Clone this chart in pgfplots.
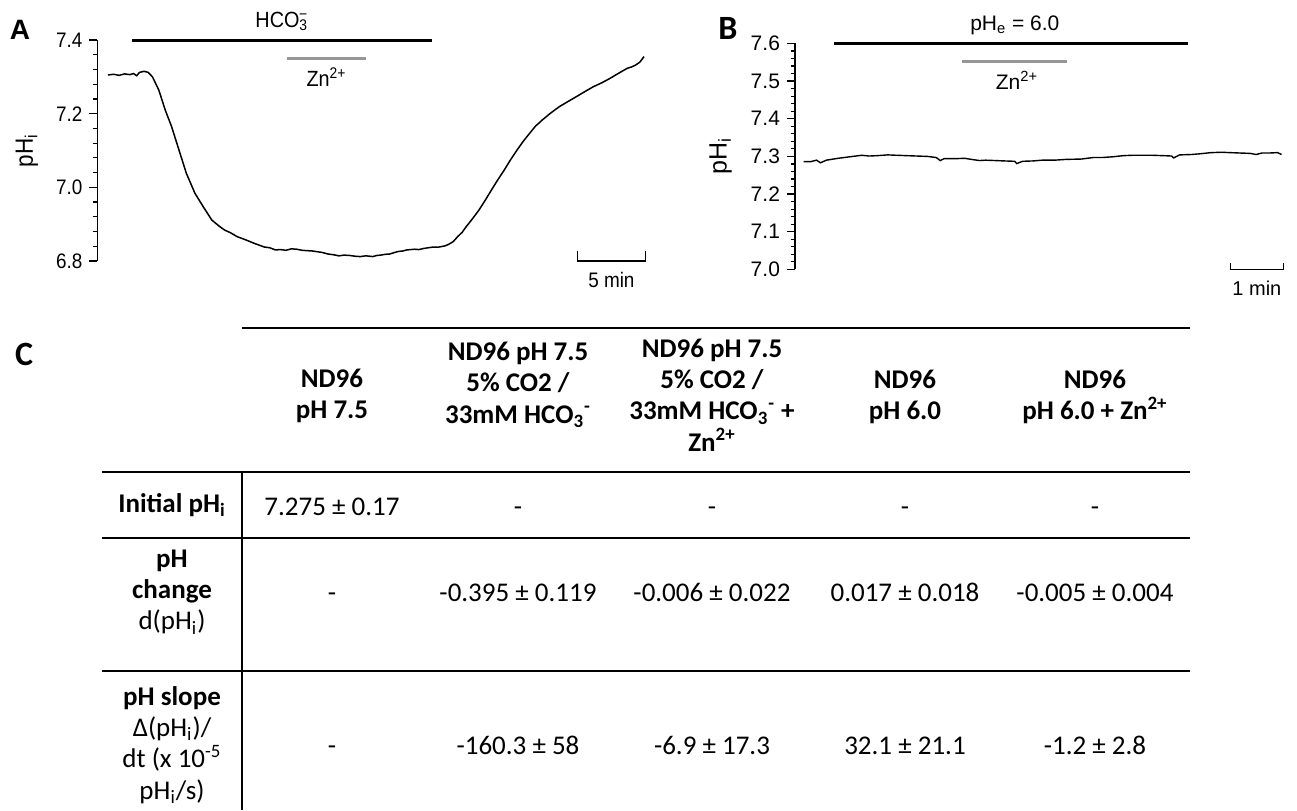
\documentclass[border=0pt]{standalone}
\usepackage{pgfplots}
\pgfplotsset{compat=1.18}
\usepackage{fontspec}
\setmainfont{Carlito}
\newfontfamily\arial{Liberation Sans}
\newfontfamily\arialn[FakeStretch=0.9]{Liberation Sans}
\definecolor{zngray}{RGB}{150,150,150}
\newcommand\tabfont{\fontsize{13.5}{15.7}\selectfont}
\begin{document}
\begin{tikzpicture}
\path[use as bounding box] (0,0) rectangle (648.5pt,405pt);

% ---------------- Panel A ----------------
\begin{axis}[
  at={(48.7pt,274.5pt)}, anchor=south west,
  scale only axis, width=275.3pt, height=110.5pt,
  xmin=0, xmax=40.6, ymin=6.8, ymax=7.4,
  axis y line=left, axis x line=none,
  y axis line style={-, line width=0.6pt},
  ytick={6.8,7.0,7.2,7.4}, minor y tick num=4,
  tick align=outside, major tick length=4pt, minor tick length=2.2pt,
  every tick/.style={line width=0.6pt},
  xtick=\empty,
  yticklabel style={font=\arialn\fontsize{10.5}{11}\selectfont},
  /pgf/number format/assume math mode=true,
  /pgf/number format/.cd, fixed, fixed zerofill, precision=1, /pgfplots/.cd,
  ylabel={pH\textsubscript{i}},
  ylabel style={font=\arialn\fontsize{12.5}{13}\selectfont, at={(axis description cs:-0.128,0.5)}, anchor=center},
  clip=false,
]
\addplot[black, line width=0.75pt] coordinates {
(0.78,7.305)(1.2,7.307)(1.6,7.304)(2.0,7.308)(2.4,7.306)(2.66,7.309)(2.9,7.303)(3.1,7.312)(3.44,7.315)(3.75,7.312)(4.06,7.300)(4.53,7.264)(5.0,7.21)(5.47,7.165)(5.94,7.11)(6.56,7.038)(7.19,6.984)(7.81,6.947)(8.44,6.911)(9.0,6.894)(9.38,6.884)(9.8,6.877)(10.31,6.866)(10.9,6.858)(11.56,6.848)(12.3,6.838)(12.7,6.836)(13.13,6.830)(13.5,6.831)(13.9,6.829)(14.3,6.833)(14.69,6.832)(15.1,6.829)(15.5,6.828)(15.9,6.827)(16.25,6.825)(16.6,6.823)(17.0,6.819)(17.4,6.817)(17.81,6.814)(18.2,6.816)(18.6,6.815)(19.0,6.813)(19.38,6.812)(19.8,6.814)(20.31,6.812)(20.6,6.815)(20.9,6.816)(21.2,6.818)(21.56,6.819)(21.9,6.823)(22.2,6.826)(22.5,6.827)(22.81,6.830)(23.1,6.831)(23.4,6.832)(23.7,6.831)(24.06,6.834)(24.4,6.836)(24.8,6.838)(25.2,6.838)(25.63,6.841)(25.94,6.846)(26.25,6.853)(26.56,6.866)(26.9,6.878)(27.19,6.893)(27.6,6.912)(28.13,6.938)(28.6,6.965)(29.06,6.993)(29.5,7.019)(30.0,7.047)(30.45,7.074)(30.94,7.101)(31.4,7.125)(31.88,7.147)(32.3,7.166)(32.81,7.183)(33.4,7.201)(34.06,7.219)(34.7,7.233)(35.31,7.246)(35.9,7.259)(36.56,7.273)(37.2,7.284)(37.81,7.296)(38.4,7.309)(39.06,7.323)(39.4,7.327)(39.69,7.332)(40.0,7.340)(40.31,7.355)
};
\addplot[black, line width=1.5pt] coordinates {(2.56,7.4) (24.69,7.4)};
\addplot[zngray, line width=1.5pt] coordinates {(14.0,7.349) (19.84,7.349)};
\addplot[black, line width=0.7pt] coordinates {(35.4,6.828) (35.4,6.8) (40.4,6.8) (40.4,6.828)};
\node[font=\arialn\fontsize{11}{12}\selectfont] at (axis cs:13.6,7.45) {HCO\textsubscript{3}\llap{\textsuperscript{−}}};
\node[font=\arialn\fontsize{11}{12}\selectfont] at (axis cs:16.9,7.30) {Zn\textsuperscript{2+}};
\node[font=\arialn\fontsize{10.5}{11}\selectfont] at (axis cs:37.9,6.748) {5 min};
\end{axis}
\node[font=\arial\bfseries\fontsize{14}{15}\selectfont] at (10pt,390pt) {A};

% ---------------- Panel B ----------------
\begin{axis}[
  at={(397.5pt,270.3pt)}, anchor=south west,
  scale only axis, width=245pt, height=113pt,
  xmin=0, xmax=9.25, ymin=7.0, ymax=7.6,
  axis y line=left, axis x line=none,
  y axis line style={-, line width=0.6pt},
  ytick={7.0,7.1,7.2,7.3,7.4,7.5,7.6}, minor y tick num=4,
  tick align=outside, major tick length=4pt, minor tick length=2.2pt,
  every tick/.style={line width=0.6pt},
  xtick=\empty,
  yticklabel style={font=\arial\fontsize{10.5}{11}\selectfont},
  /pgf/number format/assume math mode=true,
  /pgf/number format/.cd, fixed, fixed zerofill, precision=1, /pgfplots/.cd,
  ylabel={pH\textsubscript{i}},
  ylabel style={font=\arial\fontsize{12.5}{13}\selectfont, at={(axis description cs:-0.152,0.5)}, anchor=center},
  clip=false,
]
\addplot[black, line width=0.7pt] coordinates {
(0.163,7.286)(0.296,7.286)(0.407,7.290)(0.481,7.283)(0.593,7.290)(0.815,7.295)(1.037,7.299)(1.259,7.303)(1.40,7.301)(1.556,7.302)(1.75,7.304)(1.926,7.303)(2.1,7.302)(2.296,7.301)(2.5,7.300)(2.667,7.297)(2.741,7.289)(2.815,7.294)(3.037,7.294)(3.2,7.295)(3.333,7.292)(3.481,7.289)(3.6,7.290)(3.778,7.289)(3.95,7.288)(4.148,7.287)(4.185,7.281)(4.296,7.287)(4.5,7.288)(4.667,7.290)(4.9,7.290)(5.111,7.292)(5.407,7.293)(5.630,7.297)(5.8,7.297)(6.0,7.299)(6.2,7.302)(6.370,7.303)(6.55,7.303)(6.741,7.303)(6.95,7.302)(7.111,7.301)(7.148,7.296)(7.259,7.304)(7.481,7.305)(7.65,7.307)(7.852,7.310)(8.05,7.311)(8.222,7.310)(8.4,7.309)(8.593,7.308)(8.704,7.305)(8.815,7.309)(8.95,7.309)(9.111,7.310)(9.185,7.305)
};
\addplot[black, line width=1.5pt] coordinates {(0.73,7.6) (7.41,7.6)};
\addplot[zngray, line width=1.5pt] coordinates {(3.15,7.553) (5.13,7.553)};
\addplot[black, line width=0.7pt] coordinates {(8.22,7.016) (8.22,7.0) (9.22,7.0) (9.22,7.016)};
\node[font=\arial\fontsize{10.5}{11}\selectfont] at (axis cs:4.15,7.649) {pH\textsubscript{e} = 6.0};
\node[font=\arial\fontsize{10.5}{11}\selectfont] at (axis cs:4.19,7.503) {Zn\textsuperscript{2+}};
\node[font=\arial\fontsize{10}{11}\selectfont] at (axis cs:8.72,6.95) {1 min};
\end{axis}
\node[font=\bfseries\fontsize{17}{18}\selectfont] at (364pt,391pt) {B};

% ---------------- Table C ----------------
\begin{scope}[x=0.5pt,y=-0.5pt,shift={(0pt,405pt)}]
\node[font=\bfseries\fontsize{17}{18}\selectfont] at (24,354) {C};
\draw[line width=1.1pt] (242,328) -- (1190,328);
\draw[line width=1.1pt] (102,472) -- (1190,472);
\draw[line width=1.1pt] (102,538) -- (1190,538);
\draw[line width=1.1pt] (102,671) -- (1190,671);
\draw[line width=1.1pt] (242,472) -- (242,810);
\begin{scope}[every node/.style={align=center, font=\tabfont}]
\node[font=\tabfont\bfseries] at (332,396) {ND96\\pH 7.5};
\node[font=\tabfont\bfseries] at (518,385) {ND96 pH 7.5\\5\% CO2 /\\33mM HCO\textsubscript{3}\textsuperscript{-}};
\node[font=\tabfont\bfseries] at (712,395) {ND96 pH 7.5\\5\% CO2 /\\33mM HCO\textsubscript{3}\textsuperscript{-} +\\Zn\textsuperscript{2+}};
\node[font=\tabfont\bfseries] at (905,397) {ND96\\pH 6.0};
\node[font=\tabfont\bfseries] at (1095,397) {ND96\\pH 6.0 + Zn\textsuperscript{2+}};
\node[font=\tabfont\bfseries] at (172,505) {Initial pH\textsubscript{i}};
\node at (172,592) {\textbf{pH}\\\textbf{change}\\d(pH\textsubscript{i})};
\node at (172,745) {\textbf{pH slope}\\Δ(pH\textsubscript{i})/\\dt (x 10\textsuperscript{-5}\\pH\textsubscript{i}/s)};
\end{scope}
\begin{scope}[every node/.style={anchor=base, font=\tabfont}]
\node at (332,516) {7.275 ± 0.17};
\node at (518,516) {-};
\node at (712,516) {-};
\node at (905,516) {-};
\node at (1095,516) {-};
\node at (332,601) {-};
\node at (518,601) {-0.395 ± 0.119};
\node at (712,601) {-0.006 ± 0.022};
\node at (905,601) {0.017 ± 0.018};
\node at (1095,601) {-0.005 ± 0.004};
\node at (332,754) {-};
\node at (518,754) {-160.3 ± 58};
\node at (712,754) {-6.9 ± 17.3};
\node at (905,754) {32.1 ± 21.1};
\node at (1095,754) {-1.2 ± 2.8};
\end{scope}
\end{scope}
\end{tikzpicture}
\end{document}
